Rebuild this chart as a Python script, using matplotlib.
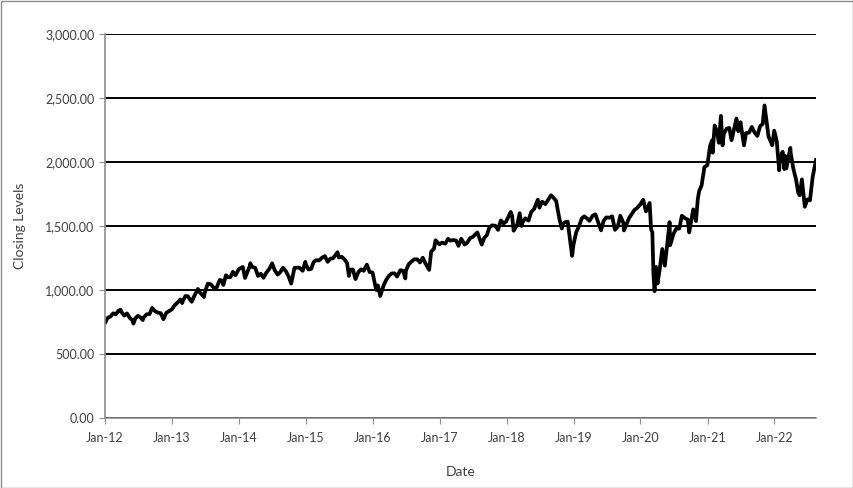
import matplotlib
matplotlib.use("Agg")

import matplotlib.pyplot as plt
import matplotlib.dates as mdates
import matplotlib.ticker as mticker
from matplotlib.patches import Rectangle
import pandas as pd

# closing levels, (month-day, close) per year
y2012 = [("01-03", 748), ("01-15", 782), ("01-31", 793), ("02-15", 818), ("02-29", 810),
         ("03-15", 838), ("03-26", 846), ("03-30", 830), ("04-15", 800), ("04-30", 817),
         ("05-15", 782), ("05-31", 762), ("06-04", 737), ("06-15", 780), ("06-29", 798),
         ("07-13", 785), ("07-25", 765), ("07-31", 786), ("08-15", 810), ("08-31", 812),
         ("09-14", 860), ("09-28", 837), ("10-15", 823), ("10-31", 819), ("11-15", 772),
         ("11-30", 821), ("12-14", 834), ("12-31", 849)]
y2013 = [("01-15", 880), ("01-31", 902), ("02-15", 926), ("02-25", 898), ("02-28", 911),
         ("03-15", 953), ("03-28", 951), ("04-18", 908), ("04-30", 947), ("05-22", 1008),
         ("05-31", 984), ("06-24", 945), ("06-28", 977), ("07-15", 1050), ("07-31", 1045),
         ("08-15", 1020), ("08-30", 1011), ("09-18", 1078), ("09-30", 1073), ("10-08", 1040),
         ("10-22", 1115), ("10-31", 1100), ("11-15", 1100), ("11-29", 1142), ("12-13", 1115),
         ("12-31", 1163)]
y2014 = [("01-22", 1180), ("02-03", 1094), ("02-28", 1183), ("03-04", 1209), ("03-14", 1180),
         ("03-31", 1173), ("04-15", 1110), ("04-30", 1127), ("05-15", 1095), ("05-30", 1135),
         ("06-16", 1165), ("07-01", 1208), ("07-15", 1155), ("07-31", 1120), ("08-15", 1140),
         ("08-29", 1174), ("09-15", 1145), ("09-30", 1102), ("10-13", 1050), ("10-31", 1173),
         ("11-14", 1175), ("11-28", 1173), ("12-15", 1150), ("12-29", 1220), ("12-31", 1205)]
y2015 = [("01-15", 1160), ("01-30", 1165), ("02-13", 1220), ("02-27", 1233), ("03-13", 1230),
         ("03-31", 1253), ("04-15", 1265), ("04-30", 1220), ("05-15", 1245), ("05-29", 1247),
         ("06-23", 1295), ("06-30", 1254), ("07-15", 1260), ("07-31", 1239), ("08-14", 1210),
         ("08-24", 1110), ("08-31", 1159), ("09-15", 1160), ("09-29", 1085), ("10-15", 1140),
         ("10-30", 1162), ("11-13", 1150), ("11-30", 1198), ("12-15", 1140), ("12-31", 1136)]
y2016 = [("01-20", 1000), ("01-29", 1036), ("02-11", 953), ("02-29", 1034), ("03-15", 1080),
         ("03-31", 1114), ("04-15", 1130), ("04-29", 1130), ("05-13", 1105), ("05-31", 1155),
         ("06-15", 1150), ("06-27", 1090), ("06-30", 1151), ("07-15", 1200), ("07-29", 1220),
         ("08-15", 1240), ("08-31", 1239), ("09-15", 1215), ("09-30", 1252), ("10-14", 1210),
         ("11-04", 1157), ("11-15", 1300), ("11-30", 1322), ("12-09", 1388), ("12-30", 1357)]
y2017 = [("01-13", 1370), ("01-31", 1362), ("02-15", 1400), ("02-28", 1386), ("03-15", 1390),
         ("03-31", 1386), ("04-13", 1345), ("04-28", 1400), ("05-17", 1355), ("05-31", 1370),
         ("06-15", 1405), ("06-30", 1415), ("07-25", 1450), ("07-31", 1425), ("08-18", 1355),
         ("08-31", 1405), ("09-15", 1430), ("09-29", 1490), ("10-13", 1505), ("10-31", 1502),
         ("11-15", 1470), ("11-30", 1544), ("12-15", 1520), ("12-29", 1535)]
y2018 = [("01-23", 1610), ("01-31", 1575), ("02-08", 1463), ("02-28", 1512), ("03-13", 1600),
         ("03-23", 1500), ("03-29", 1529), ("04-13", 1560), ("04-30", 1542), ("05-15", 1610),
         ("05-31", 1634), ("06-20", 1706), ("06-29", 1643), ("07-13", 1690), ("07-31", 1671),
         ("08-31", 1740), ("09-14", 1720), ("09-28", 1696), ("10-15", 1560), ("10-29", 1480),
         ("10-31", 1512), ("11-15", 1530), ("11-30", 1533), ("12-24", 1267), ("12-31", 1349)]
y2019 = [("01-15", 1450), ("01-31", 1499), ("02-15", 1560), ("02-28", 1575), ("03-15", 1560),
         ("03-29", 1540), ("04-15", 1580), ("04-30", 1591), ("05-15", 1530), ("05-31", 1466),
         ("06-14", 1540), ("06-28", 1567), ("07-15", 1565), ("07-31", 1575), ("08-15", 1470),
         ("08-30", 1495), ("09-13", 1580), ("09-30", 1523), ("10-03", 1465), ("10-31", 1562),
         ("11-15", 1595), ("11-29", 1625), ("12-13", 1640), ("12-31", 1668)]
y2020 = [("01-16", 1705), ("01-31", 1614), ("02-20", 1680), ("02-28", 1476), ("03-06", 1450),
         ("03-12", 1120), ("03-18", 991), ("03-26", 1180), ("03-31", 1153), ("04-03", 1050),
         ("04-15", 1160), ("04-29", 1320), ("05-13", 1190), ("05-29", 1394), ("06-08", 1530),
         ("06-11", 1350), ("06-30", 1441), ("07-15", 1480), ("07-31", 1480), ("08-14", 1580),
         ("08-31", 1561), ("09-15", 1550), ("09-23", 1450), ("09-30", 1507), ("10-15", 1630),
         ("10-30", 1538), ("11-09", 1710), ("11-16", 1770), ("11-30", 1819), ("12-15", 1960),
         ("12-31", 1975)]
y2021 = [("01-15", 2125), ("01-26", 2170), ("01-29", 2073), ("02-09", 2285), ("02-16", 2260),
         ("02-26", 2201), ("03-04", 2150), ("03-15", 2360), ("03-24", 2130), ("03-31", 2221),
         ("04-15", 2260), ("04-30", 2266), ("05-12", 2170), ("05-28", 2269), ("06-08", 2340),
         ("06-18", 2240), ("06-30", 2311), ("07-19", 2130), ("07-30", 2226), ("08-16", 2230),
         ("08-31", 2274), ("09-15", 2230), ("09-30", 2204), ("10-15", 2280), ("10-29", 2297),
         ("11-08", 2442), ("11-30", 2199), ("12-15", 2150), ("12-20", 2130), ("12-31", 2245)]
y2022 = [("01-14", 2160), ("01-27", 1935), ("01-31", 2028), ("02-15", 2080), ("02-24", 1945),
         ("02-28", 2048), ("03-07", 1950), ("03-29", 2110), ("03-31", 2070), ("04-14", 1950),
         ("04-29", 1864), ("05-11", 1760), ("05-19", 1740), ("05-31", 1864), ("06-16", 1650),
         ("06-30", 1708), ("07-14", 1700), ("07-29", 1885), ("08-16", 2016)]

years = [2012, 2013, 2014, 2015, 2016, 2017, 2018, 2019, 2020, 2021, 2022]
series = [y2012, y2013, y2014, y2015, y2016, y2017, y2018, y2019, y2020, y2021, y2022]

dates = []
closes = []
for yr, rows in zip(years, series):
    for md, v in rows:
        dates.append(pd.Timestamp(f"{yr}-{md}"))
        closes.append(v)

plt.rcParams['font.family'] = ['Lato', 'DejaVu Sans']

fig = plt.figure(figsize=(8.54, 4.88), dpi=100)
ax = fig.add_axes([105 / 854, 70 / 488, 711 / 854, 384 / 488])

ax.plot(dates, closes, color='black', linewidth=2.7, solid_joinstyle='round')

ax.set_ylim(0, 3000)
ax.set_xlim(dates[0] - pd.Timedelta(days=2), dates[-1])
ax.yaxis.set_major_locator(mticker.MultipleLocator(500))
ax.yaxis.set_major_formatter(mticker.StrMethodFormatter('{x:,.2f}'))
ax.xaxis.set_major_locator(mdates.YearLocator())
ax.xaxis.set_major_formatter(mdates.DateFormatter('%b-%y'))

ax.grid(axis='y', color='black', linewidth=1.4)
ax.set_axisbelow(True)
for side in ['top', 'right']:
    ax.spines[side].set_visible(False)
for side in ['left', 'bottom']:
    ax.spines[side].set_color('#8c8c8c')
    ax.spines[side].set_linewidth(1.2)
ax.tick_params(axis='both', colors='#8c8c8c', length=4, labelsize=9, labelcolor='#404040')
ax.tick_params(axis='x', pad=6)

ax.set_ylabel('Closing Levels', fontsize=10, color='#404040', labelpad=14)
ax.set_xlabel('Date', fontsize=10, color='#404040', labelpad=16)

fig.patches.append(Rectangle((0.5 / 854, 0.5 / 488), 852.5 / 854, 486.5 / 488,
                             transform=fig.transFigure, fill=False,
                             edgecolor='#8c8c8c', linewidth=1))

plt.savefig('out.png', dpi=100)
